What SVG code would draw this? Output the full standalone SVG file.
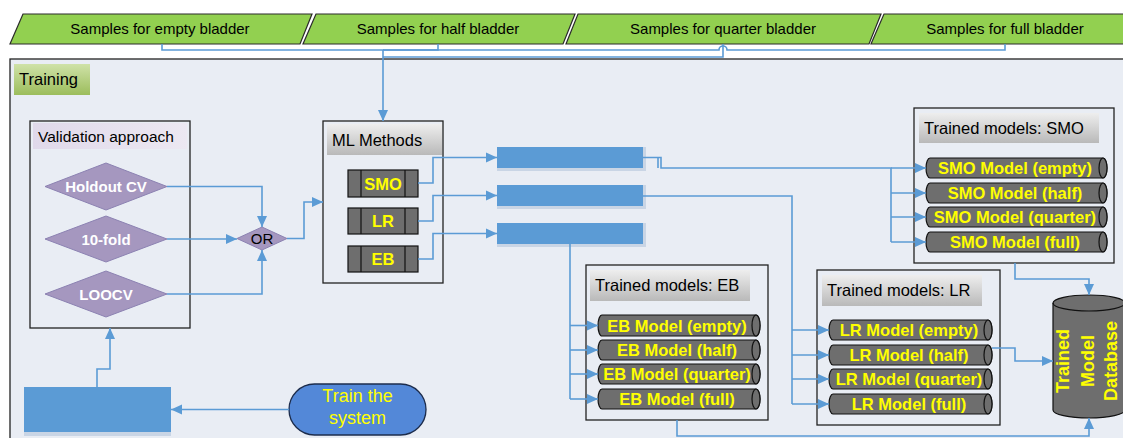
<svg xmlns="http://www.w3.org/2000/svg" width="1123" height="438" viewBox="0 0 1123 438">
<style>
text{font-family:"Liberation Sans",Arial,sans-serif;}
.ban{fill:#92D050;stroke:#2b2b2b;stroke-width:1.2;}
.bt{font-size:15px;fill:#000;text-anchor:middle;}
.frame{fill:#E9EDF4;stroke:#222;stroke-width:1.3;}
.head{fill:url(#gray);}
.ht{font-size:16.5px;fill:#000;}
.dia{fill:#A597BF;stroke:#8C82B2;stroke-width:1;}
.dt{font-size:15px;font-weight:bold;fill:#fff;text-anchor:middle;}
.blk{fill:#6E6E6E;stroke:#111;stroke-width:1.2;}
.cyl{fill:#6E6E6E;stroke:#111;stroke-width:1.2;}
.yt{font-weight:bold;fill:#FFFF00;text-anchor:middle;}
.mt{font-size:16.5px;}
.dbt{font-size:18px;}
.bar{fill:#5B9BD5;}
.sh{fill:#C9D5E5;}
.c{fill:none;stroke:#5B9BD5;stroke-width:1.6;}
.ca{fill:none;stroke:#5B9BD5;stroke-width:1.6;marker-end:url(#ah);}
</style>
<defs>
<marker id="ah" markerUnits="userSpaceOnUse" markerWidth="12" markerHeight="12" viewBox="0 0 12 12" refX="11" refY="6" orient="auto">
<path d="M0,1 L11,6 L0,11 Z" fill="#5B9BD5"/>
</marker>
<linearGradient id="gray" x1="0" y1="0" x2="0" y2="1">
<stop offset="0" stop-color="#EEEEEE"/><stop offset="1" stop-color="#B9B9B9"/>
</linearGradient>
<linearGradient id="green" x1="0" y1="0" x2="0" y2="1">
<stop offset="0" stop-color="#CFE2A8"/><stop offset="1" stop-color="#9CBD5C"/>
</linearGradient>
<linearGradient id="lav" x1="0" y1="0" x2="1" y2="0">
<stop offset="0" stop-color="#E0D9EA"/><stop offset="1" stop-color="#ECE8F2"/>
</linearGradient>
</defs>

<rect width="1123" height="438" fill="#fff"/>

<!-- banners -->
<g id="banner-empty"><polygon class="ban" points="23,14 312,14 300,44 10,44"/><text class="bt" x="160" y="34">Samples for empty bladder</text></g>
<g id="banner-half"><polygon class="ban" points="316,14 575,14 563,44 303,44"/><text class="bt" x="438" y="34">Samples for half bladder</text></g>
<g id="banner-quarter"><polygon class="ban" points="578,14 881,14 869,44 566,44"/><text class="bt" x="723" y="34">Samples for quarter bladder</text></g>
<g id="banner-full"><polygon class="ban" points="884,14 1140,14 1128,44 871,44"/><text class="bt" x="1005" y="34">Samples for full bladder</text></g>

<!-- training frame -->
<g id="training">
<rect class="frame" x="10" y="59" width="1130" height="390"/>
<rect x="14" y="64" width="76" height="31" fill="url(#green)"/>
<text class="ht" x="19" y="85">Training</text>
</g>

<!-- validation approach -->
<g id="validation">
<rect class="frame" x="30" y="121" width="160" height="207"/>
<rect x="33" y="123" width="154" height="26" fill="url(#lav)"/>
<text x="38" y="142" style="font-size:15.5px;fill:#000">Validation approach</text>
</g>
<g id="holdout"><polygon class="dia" points="45,186.5 106,163 167,186.5 106,210"/><text class="dt" x="106" y="192">Holdout CV</text></g>
<g id="tenfold"><polygon class="dia" points="45,239 106,216 167,239 106,262"/><text class="dt" x="106" y="244.5">10-fold</text></g>
<g id="loocv"><polygon class="dia" points="45,294 106,271 167,294 106,317"/><text class="dt" x="106" y="299.5">LOOCV</text></g>
<g id="or"><polygon class="dia" points="237,238.5 262,227 287,238.5 262,250"/><text x="262" y="244" style="font-size:15px;fill:#000;text-anchor:middle">OR</text></g>

<!-- ML methods -->
<g id="ml-methods">
<rect class="frame" x="323" y="121" width="120" height="162"/>
<rect class="head" x="327" y="124" width="115" height="31"/>
<text class="ht" x="332" y="146">ML Methods</text>
</g>
<g id="smo"><rect class="blk" x="348" y="170" width="70" height="27"/><path d="M361,170V197M405,170V197" stroke="#111" stroke-width="1.2"/><text class="yt" x="383" y="189.5" style="font-size:16.5px">SMO</text></g>
<g id="lr"><rect class="blk" x="348" y="208" width="70" height="26"/><path d="M361,208V234M405,208V234" stroke="#111" stroke-width="1.2"/><text class="yt" x="383" y="227" style="font-size:16.5px">LR</text></g>
<g id="eb"><rect class="blk" x="348" y="246" width="70" height="26"/><path d="M361,246V272M405,246V272" stroke="#111" stroke-width="1.2"/><text class="yt" x="383" y="265" style="font-size:16.5px">EB</text></g>

<!-- blue bars -->
<g id="bar1"><rect class="sh" x="497" y="147" width="149" height="24"/><rect class="bar" x="497" y="147" width="146" height="21"/></g>
<g id="bar2"><rect class="sh" x="497" y="185" width="149" height="24"/><rect class="bar" x="497" y="185" width="146" height="21"/></g>
<g id="bar3"><rect class="sh" x="497" y="223" width="149" height="24"/><rect class="bar" x="497" y="223" width="146" height="21"/></g>

<!-- trained models SMO -->
<g id="trained-smo">
<rect class="frame" x="914" y="108" width="200" height="155"/>
<rect class="head" x="919" y="113" width="180" height="30"/>
<text class="ht" x="924" y="134">Trained models: SMO</text>
</g>
<g id="smo-empty"><path class="cyl" d="M930,158H1103A4,10 0 0 1 1103,178H930A4,10 0 0 1 930,158Z"/><ellipse class="cyl" cx="1103" cy="168" rx="4" ry="10"/><text class="yt mt" x="1015" y="174">SMO Model (empty)</text></g>
<g id="smo-half"><path class="cyl" d="M930,183H1103A4,10 0 0 1 1103,203H930A4,10 0 0 1 930,183Z"/><ellipse class="cyl" cx="1103" cy="193" rx="4" ry="10"/><text class="yt mt" x="1015" y="199">SMO Model (half)</text></g>
<g id="smo-quarter"><path class="cyl" d="M930,207H1103A4,10 0 0 1 1103,227H930A4,10 0 0 1 930,207Z"/><ellipse class="cyl" cx="1103" cy="217" rx="4" ry="10"/><text class="yt mt" x="1015" y="223">SMO Model (quarter)</text></g>
<g id="smo-full"><path class="cyl" d="M930,232H1103A4,10 0 0 1 1103,252H930A4,10 0 0 1 930,232Z"/><ellipse class="cyl" cx="1103" cy="242" rx="4" ry="10"/><text class="yt mt" x="1015" y="248">SMO Model (full)</text></g>

<!-- trained models EB -->
<g id="trained-eb">
<rect class="frame" x="586" y="265" width="182" height="155"/>
<rect class="head" x="590" y="270" width="160" height="31"/>
<text class="ht" x="595" y="291">Trained models: EB</text>
</g>
<g id="eb-empty"><path class="cyl" d="M602,315H756A4,10.5 0 0 1 756,336H602A4,10.5 0 0 1 602,315Z"/><ellipse class="cyl" cx="756" cy="325.5" rx="4" ry="10.5"/><text class="yt mt" x="677" y="331.5">EB Model (empty)</text></g>
<g id="eb-half"><path class="cyl" d="M602,340H756A4,10 0 0 1 756,360H602A4,10 0 0 1 602,340Z"/><ellipse class="cyl" cx="756" cy="350" rx="4" ry="10"/><text class="yt mt" x="677" y="356">EB Model (half)</text></g>
<g id="eb-quarter"><path class="cyl" d="M602,364H756A4,10 0 0 1 756,384H602A4,10 0 0 1 602,364Z"/><ellipse class="cyl" cx="756" cy="374" rx="4" ry="10"/><text class="yt mt" x="677" y="380">EB Model (quarter)</text></g>
<g id="eb-full"><path class="cyl" d="M602,389H756A4,10 0 0 1 756,409H602A4,10 0 0 1 602,389Z"/><ellipse class="cyl" cx="756" cy="399" rx="4" ry="10"/><text class="yt mt" x="677" y="405">EB Model (full)</text></g>

<!-- trained models LR -->
<g id="trained-lr">
<rect class="frame" x="817" y="270" width="183" height="155"/>
<rect class="head" x="822" y="275" width="160" height="31"/>
<text class="ht" x="827" y="296">Trained models: LR</text>
</g>
<g id="lr-empty"><path class="cyl" d="M833,320H988A4,10 0 0 1 988,340H833A4,10 0 0 1 833,320Z"/><ellipse class="cyl" cx="988" cy="330" rx="4" ry="10"/><text class="yt mt" x="909" y="336">LR Model (empty)</text></g>
<g id="lr-half"><path class="cyl" d="M833,345H988A4,10 0 0 1 988,365H833A4,10 0 0 1 833,345Z"/><ellipse class="cyl" cx="988" cy="355" rx="4" ry="10"/><text class="yt mt" x="909" y="361">LR Model (half)</text></g>
<g id="lr-quarter"><path class="cyl" d="M833,369H988A4,10 0 0 1 988,389H833A4,10 0 0 1 833,369Z"/><ellipse class="cyl" cx="988" cy="379" rx="4" ry="10"/><text class="yt mt" x="909" y="385">LR Model (quarter)</text></g>
<g id="lr-full"><path class="cyl" d="M833,394H988A4,10 0 0 1 988,414H833A4,10 0 0 1 833,394Z"/><ellipse class="cyl" cx="988" cy="404" rx="4" ry="10"/><text class="yt mt" x="909" y="410">LR Model (full)</text></g>

<!-- database -->
<g id="database">
<path class="cyl" d="M1053,303A36,8 0 0 1 1125,303V410A36,8 0 0 1 1053,410Z"/>
<path d="M1053,303A36,8 0 0 0 1125,303" fill="none" stroke="#111" stroke-width="1.2"/>
<text class="yt dbt" dominant-baseline="central" transform="translate(1063,361) rotate(-90)">Trained</text>
<text class="yt dbt" dominant-baseline="central" transform="translate(1088,361) rotate(-90)">Model</text>
<text class="yt dbt" dominant-baseline="central" transform="translate(1111,361) rotate(-90)">Database</text>
</g>

<!-- bottom-left -->
<g id="input-box"><rect class="sh" x="24" y="387" width="147" height="49"/><rect class="bar" x="24" y="387" width="147" height="45"/></g>
<g id="train-system">
<rect x="289" y="384" width="137" height="51" rx="25.5" fill="#5388D8" stroke="#1C2C4C" stroke-width="1.3"/>
<text x="357.5" y="402" style="font-size:18px;fill:#FFFF00;text-anchor:middle">Train the</text>
<text x="357.5" y="424" style="font-size:18px;fill:#FFFF00;text-anchor:middle">system</text>
</g>

<!-- connectors -->
<g id="connectors">
<path class="ca" d="M162,44V50H383V121"/>
<path class="c" d="M438,44V50H383"/>
<path class="c" d="M1005,44V50H727A4,4 0 0 0 719,50H383"/>
<path class="c" d="M723,44V57H383"/>
<path class="ca" d="M167,186.5H262V227"/>
<path class="ca" d="M167,239H237"/>
<path class="ca" d="M167,294H262V250"/>
<path class="ca" d="M287,238.5H304V202H323"/>
<path class="ca" d="M418,183H433V157.5H497"/>
<path class="ca" d="M418,221H433V195.5H497"/>
<path class="ca" d="M418,259H433V233.5H497"/>
<path class="c" d="M643,157.5H661V168H891V242"/>
<path class="c" d="M658,157.5V168"/>
<path class="ca" d="M891,168H926"/>
<path class="ca" d="M891,193H926"/>
<path class="ca" d="M891,217H926"/>
<path class="ca" d="M891,242H926"/>
<path class="c" d="M643,196H792V404"/>
<path class="ca" d="M792,330H829"/>
<path class="ca" d="M792,355H829"/>
<path class="ca" d="M792,379H829"/>
<path class="ca" d="M792,404H829"/>
<path class="c" d="M570,244V399"/>
<path class="ca" d="M570,325.5H598"/>
<path class="ca" d="M570,350H598"/>
<path class="ca" d="M570,374H598"/>
<path class="ca" d="M570,399H598"/>
<path class="ca" d="M1015,263V279H1089V295"/>
<path class="ca" d="M992,348H1015V361H1053"/>
<path class="ca" d="M677,420V436H1089V418"/>
<path class="ca" d="M289,409.5H171"/>
<path class="ca" d="M97,387V369H110V328"/>
</g>
</svg>
